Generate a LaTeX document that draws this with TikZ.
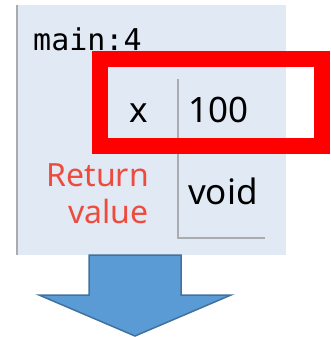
\documentclass[tikz,border=0pt]{standalone}
\usepackage{fontspec}
\setsansfont{Noto Sans}
\setmonofont{DejaVu Sans Mono}
\usetikzlibrary{positioning}
\definecolor{panelbg}{HTML}{E0E9F4}
\definecolor{rimgray}{HTML}{A9ABAE}
\definecolor{retred}{HTML}{EE4B3E}
\definecolor{arrfill}{HTML}{5B9BD5}
\definecolor{arrrim}{HTML}{41719C}
\tikzset{
  txt/.style={inner sep=0pt,font=\sffamily\fontsize{35}{38}\selectfont},
  mono/.style={inner sep=0pt,font=\ttfamily\fontsize{30}{32}\selectfont},
  retlbl/.style={inner sep=0pt,text=retred,align=right,font=\sffamily\fontsize{32}{37}\selectfont},
  hilite/.style={draw=red,line width=16pt,minimum width=222.5pt,minimum height=87pt,inner sep=0pt},
  rim/.style={draw=rimgray,line width=2pt},
  bigarr/.style={fill=arrfill,draw=arrrim,line width=1.5pt,line join=miter},
}

\begin{document}
\begin{tikzpicture}[x=1pt,y=-1pt]
 \useasboundingbox (0,0) rectangle (331,337);
 \fill[panelbg] (17,5) rectangle (286,255); \draw[rim] (17,5) -- (17,255);
 \node[mono,anchor=base west] (frame) at (33,51) {main:4};
 \node[txt,anchor=base west] (var) at (129,122) {x}; \node[txt,anchor=base west] (val) at (188,122) {100};
 \node[retlbl,anchor=east] (ret) at (149,194) {Return\\value}; \node[txt,anchor=base west] (retval) at (188,204) {void};
 \coordinate (colT) at (178,79); \coordinate (colB) at (178,238); \coordinate (rowE) at (265,238);
 \draw[rim] (colT) -- (colB) -- (rowE);
 \node[hilite] (hl) at (211,102.5) {};
 \draw[bigarr] (89,255) -- (181,255) -- (181,295) -- (231,295) -- (135,336) -- (39,295) -- (89,295) -- cycle;
\end{tikzpicture}
\end{document}
